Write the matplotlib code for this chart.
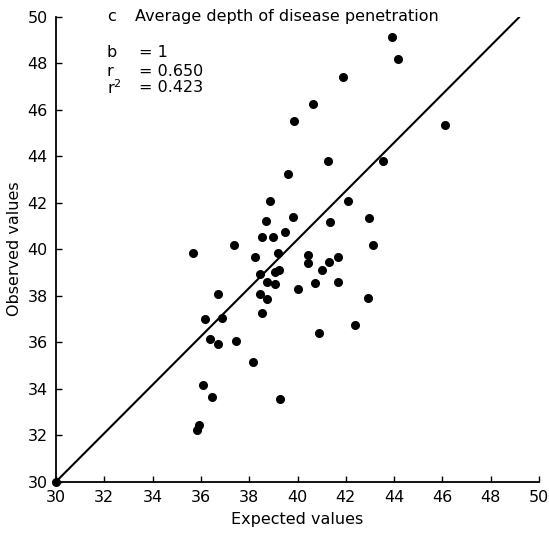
import matplotlib
matplotlib.use("Agg")
import matplotlib.pyplot as plt

expected = [39.86, 41.26, 39.62, 38.86, 42.10, 38.71, 39.81, 41.35, 38.53, 38.99,
            39.48, 37.37, 35.69, 38.24, 39.19, 40.45, 40.45, 41.32, 41.68, 38.45,
            39.07, 39.25, 41.01, 38.74, 39.08, 40.71, 41.68, 40.02, 36.71, 38.45,
            38.72, 38.53, 36.17, 36.89, 36.39, 36.71, 37.47, 40.90, 38.17, 36.09,
            36.47, 39.26, 35.94, 35.83, 43.90, 44.17, 41.90, 46.11, 43.55, 42.97,
            43.14, 42.93, 42.38, 40.65, 30.00]
observed = [45.51, 43.78, 43.22, 42.07, 42.07, 41.23, 41.40, 41.18, 40.52, 40.52,
            40.74, 40.18, 39.84, 39.68, 39.85, 39.75, 39.39, 39.45, 39.68, 38.92,
            39.03, 39.10, 39.10, 38.60, 38.50, 38.55, 38.58, 38.27, 38.06, 38.09,
            37.85, 37.24, 37.01, 37.04, 36.12, 35.92, 36.04, 36.40, 35.15, 34.17,
            33.64, 33.56, 32.44, 32.21, 49.14, 48.19, 47.42, 45.33, 43.78, 41.36,
            40.17, 37.91, 36.75, 46.23, 30.00]
line_x = [30, 49.2]
line_y = [30, 50]
ticks = [30, 32, 34, 36, 38, 40, 42, 44, 46, 48, 50]

fig = plt.figure(figsize=(5.49, 5.33), dpi=100)
ax = fig.add_axes([0.102, 0.0963, 0.8798, 0.8724])
ax.plot(line_x, line_y, color="black", lw=1.5, solid_capstyle="butt")
ax.plot(expected, observed, "o", color="black", ms=5.5, clip_on=False, zorder=3)
ax.set_xlim(30, 50)
ax.set_ylim(30, 50)
ax.set_xticks(ticks)
ax.set_yticks(ticks)
for s in ["top", "right"]:
    ax.spines[s].set_visible(False)
for s in ["left", "bottom"]:
    ax.spines[s].set_linewidth(1.3)
ax.tick_params(direction="in", length=4, width=1, labelsize=11.5)
ax.tick_params(axis="x", pad=6)
ax.tick_params(axis="y", pad=6)
ax.set_xlabel("Expected values", fontsize=11.5, labelpad=5)
ax.set_ylabel("Observed values", fontsize=11.5, labelpad=4)

ax.text(0.105, 1.0, "c", transform=ax.transAxes, fontsize=11.5, va="center")
ax.text(0.164, 1.0, "Average depth of disease penetration", transform=ax.transAxes,
        fontsize=11.5, va="center")
ax.text(0.105, 0.923, "b", transform=ax.transAxes, fontsize=11.5, va="center")
ax.text(0.105, 0.883, "r", transform=ax.transAxes, fontsize=11.5, va="center")
ax.text(0.105, 0.847, r"r$^2$", transform=ax.transAxes, fontsize=11.5, va="center")
ax.text(0.172, 0.923, "= 1", transform=ax.transAxes, fontsize=11.5, va="center")
ax.text(0.172, 0.883, "= 0.650", transform=ax.transAxes, fontsize=11.5, va="center")
ax.text(0.172, 0.847, "= 0.423", transform=ax.transAxes, fontsize=11.5, va="center")

fig.savefig("out.png", dpi=100)
